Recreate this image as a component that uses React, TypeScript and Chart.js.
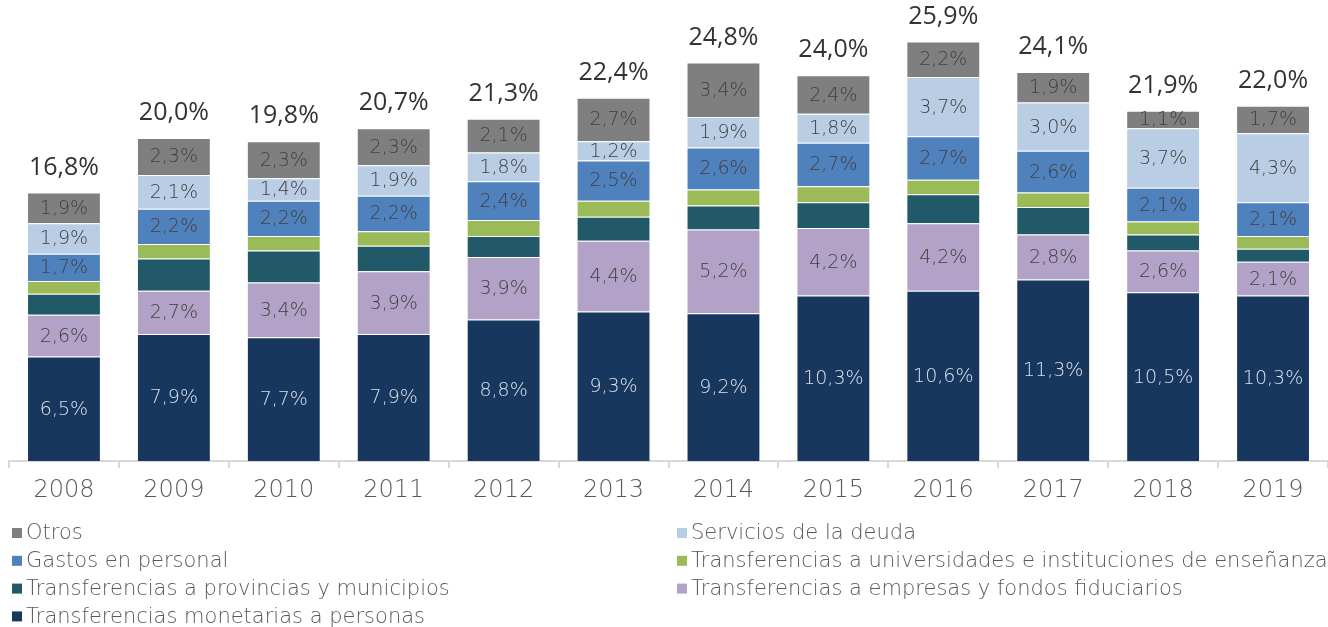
import React, { useEffect, useRef } from "react";
import { Chart, registerables } from "chart.js";

Chart.register(...registerables);

const years = ["2008", "2009", "2010", "2011", "2012", "2013", "2014", "2015", "2016", "2017", "2018", "2019"];

const monetarias = [6.5, 7.9, 7.7, 7.9, 8.8, 9.3, 9.2, 10.3, 10.6, 11.3, 10.5, 10.3];
const empresas = [2.6, 2.7, 3.4, 3.9, 3.9, 4.4, 5.2, 4.2, 4.2, 2.8, 2.6, 2.1];
const provincias = [1.3, 2.0, 2.0, 1.6, 1.3, 1.5, 1.5, 1.6, 1.8, 1.7, 1.0, 0.8];
const universidades = [0.8, 0.9, 0.9, 0.9, 1.0, 1.0, 1.0, 1.0, 0.9, 0.9, 0.8, 0.8];
const personal = [1.7, 2.2, 2.2, 2.2, 2.4, 2.5, 2.6, 2.7, 2.7, 2.6, 2.1, 2.1];
const deuda = [1.9, 2.1, 1.4, 1.9, 1.8, 1.2, 1.9, 1.8, 3.7, 3.0, 3.7, 4.3];
const otros = [1.9, 2.3, 2.3, 2.3, 2.1, 2.7, 3.4, 2.4, 2.2, 1.9, 1.1, 1.7];

const totals = [16.8, 20.0, 19.8, 20.7, 21.3, 22.4, 24.8, 24.0, 25.9, 24.1, 21.9, 22.0];

const TOTFONT = "'Open Sans', Lato, sans-serif";
const THIN = "'DejaVu Sans', sans-serif";

const fmt = (v: number) => v.toFixed(1).replace(".", ",") + "%";

const seriesDefs = [
  { label: "Transferencias monetarias a personas", data: monetarias, color: "#17375e", labelColor: "#dbe1ea", showLabels: true },
  { label: "Transferencias a empresas y fondos fiduciarios", data: empresas, color: "#b3a2c7", labelColor: "#404040", showLabels: true },
  { label: "Transferencias a provincias y municipios", data: provincias, color: "#215968", labelColor: "#404040", showLabels: false },
  { label: "Transferencias a universidades e instituciones de enseñanza", data: universidades, color: "#9bbb59", labelColor: "#404040", showLabels: false },
  { label: "Gastos en personal", data: personal, color: "#4f81bd", labelColor: "#404040", showLabels: true },
  { label: "Servicios de la deuda", data: deuda, color: "#b9cde5", labelColor: "#404040", showLabels: true },
  { label: "Otros", data: otros, color: "#7f7f7f", labelColor: "#404040", showLabels: true },
];

const labelsPlugin = {
  id: "segLabels",
  afterDatasetsDraw(chart: any) {
    const ctx = chart.ctx;
    ctx.save();
    ctx.textAlign = "center";
    ctx.textBaseline = "middle";
    ctx.font = `200 19px ${THIN}`;
    seriesDefs.forEach((s, di) => {
      if (!s.showLabels) return;
      const meta = chart.getDatasetMeta(di);
      meta.data.forEach((el: any, i: number) => {
        const y = (el.y + el.base) / 2;
        ctx.fillStyle = s.labelColor;
        ctx.fillText(fmt(s.data[i]), el.x, y + 1);
      });
    });
    const topMeta = chart.getDatasetMeta(seriesDefs.length - 1);
    ctx.font = `400 25px ${TOTFONT}`;
    ctx.fillStyle = "#333333";
    topMeta.data.forEach((el: any, i: number) => {
      ctx.fillText(fmt(totals[i]), el.x, el.y - 25);
    });
    ctx.restore();
  },
};

const legendPlugin = {
  id: "gridLegend",
  afterDraw(chart: any) {
    const ctx = chart.ctx;
    ctx.save();
    ctx.font = `200 21px ${THIN}`;
    ctx.textBaseline = "middle";
    ctx.textAlign = "left";
    const items = [...seriesDefs].reverse();
    const colX = [12, 677];
    const rowY0 = 533;
    const rowH = 27.8;
    items.forEach((it, idx) => {
      const col = idx % 2;
      const row = Math.floor(idx / 2);
      const x = colX[col];
      const y = rowY0 + row * rowH;
      ctx.fillStyle = it.color;
      ctx.fillRect(x, y - 5, 10, 10);
      ctx.fillStyle = "#595959";
      ctx.fillText(it.label, x + 14, y + 1);
    });
    ctx.restore();
  },
};

export default function App() {
  const ref = useRef<HTMLCanvasElement | null>(null);

  useEffect(() => {
    if (!ref.current) return;
    const chart = new Chart(ref.current, {
      type: "bar",
      data: {
        labels: years,
        datasets: seriesDefs.map((s) => ({
          label: s.label,
          data: s.data,
          backgroundColor: s.color,
          borderColor: "rgba(255,255,255,0.45)",
          borderWidth: 1,
          barPercentage: 0.672,
          categoryPercentage: 1,
        })),
      },
      options: {
        animation: false,
        responsive: false,
        devicePixelRatio: 1,
        layout: { padding: { left: 9, right: 0, top: 11, bottom: 0 } },
        plugins: {
          legend: { display: false },
          tooltip: { enabled: false },
        },
        scales: {
          x: {
            stacked: true,
            grid: {
              display: true,
              drawOnChartArea: false,
              drawTicks: true,
              tickLength: 7,
              color: "#d9d9d9",
              offset: true,
              lineWidth: 2,
            },
            border: { display: true, color: "#d9d9d9", width: 2 },
            ticks: {
              color: "#595959",
              font: { family: THIN, size: 24, weight: 200 },
              padding: 8,
            },
            afterFit(scale: any) {
              scale.height = 166;
            },
          },
          y: {
            stacked: true,
            display: false,
            min: 0,
            max: 28,
          },
        },
      },
      plugins: [labelsPlugin, legendPlugin],
    });
    return () => chart.destroy();
  }, []);

  return (
    <div style={{ position: "fixed", left: 0, top: 0, width: 1328, height: 627, background: "#ffffff" }}>
      <canvas ref={ref} width={1328} height={627} />
    </div>
  );
}
